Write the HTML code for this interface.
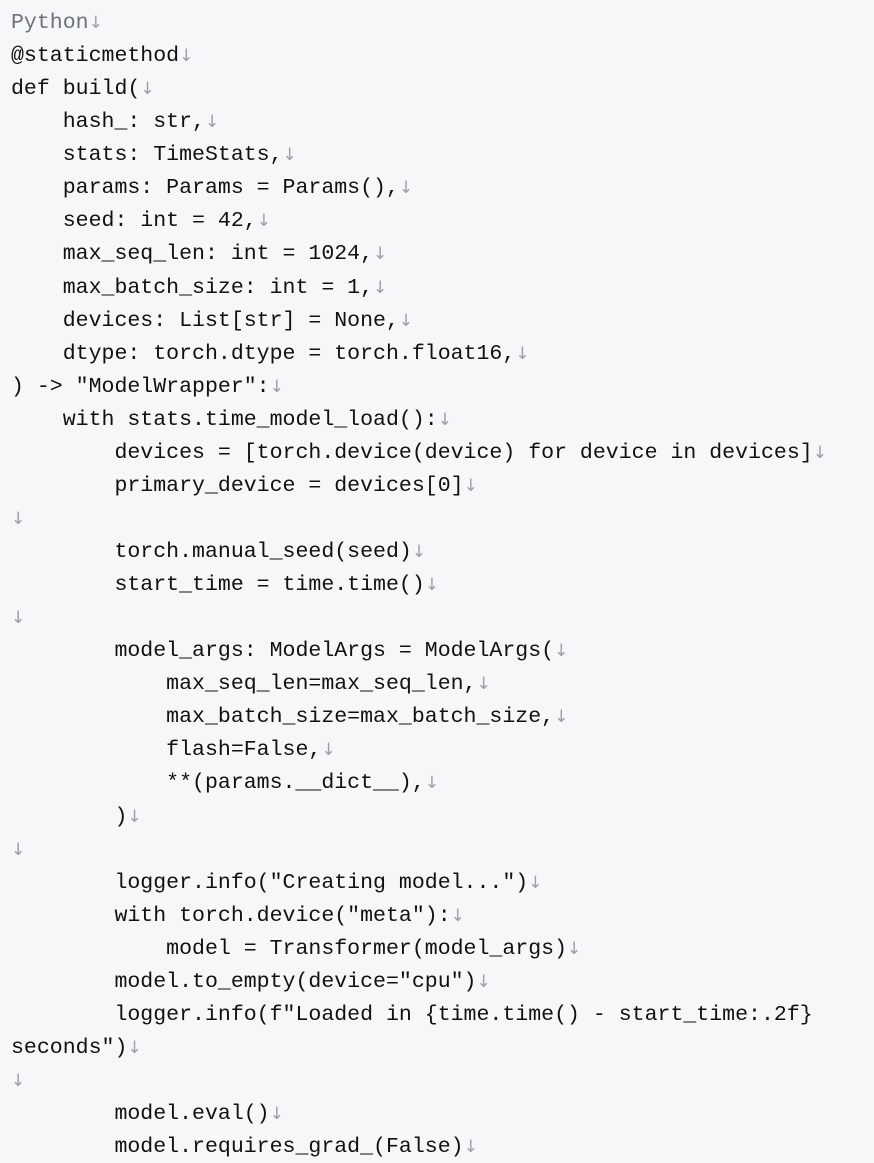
<!DOCTYPE html>
<html><head><meta charset="utf-8"><style>
html,body{margin:0;padding:0;background:#f6f7f9;width:874px;height:1163px;overflow:hidden}
pre{margin:0;padding:7px 0 0 11px;font-family:"Liberation Mono","DejaVu Sans Mono",monospace;font-size:21.55px;line-height:33.06px;color:#111;white-space:pre}
.a{color:#9a9ea5;font-family:"DejaVu Sans",sans-serif;font-size:17px}
.g{color:#6c727c}
</style></head><body><pre><span class="g">Python</span><span class="a">↓</span>
@staticmethod<span class="a">↓</span>
def build(<span class="a">↓</span>
    hash_: str,<span class="a">↓</span>
    stats: TimeStats,<span class="a">↓</span>
    params: Params = Params(),<span class="a">↓</span>
    seed: int = 42,<span class="a">↓</span>
    max_seq_len: int = 1024,<span class="a">↓</span>
    max_batch_size: int = 1,<span class="a">↓</span>
    devices: List[str] = None,<span class="a">↓</span>
    dtype: torch.dtype = torch.float16,<span class="a">↓</span>
) -> "ModelWrapper":<span class="a">↓</span>
    with stats.time_model_load():<span class="a">↓</span>
        devices = [torch.device(device) for device in devices]<span class="a">↓</span>
        primary_device = devices[0]<span class="a">↓</span>
<span class="a">↓</span>
        torch.manual_seed(seed)<span class="a">↓</span>
        start_time = time.time()<span class="a">↓</span>
<span class="a">↓</span>
        model_args: ModelArgs = ModelArgs(<span class="a">↓</span>
            max_seq_len=max_seq_len,<span class="a">↓</span>
            max_batch_size=max_batch_size,<span class="a">↓</span>
            flash=False,<span class="a">↓</span>
            **(params.__dict__),<span class="a">↓</span>
        )<span class="a">↓</span>
<span class="a">↓</span>
        logger.info("Creating model...")<span class="a">↓</span>
        with torch.device("meta"):<span class="a">↓</span>
            model = Transformer(model_args)<span class="a">↓</span>
        model.to_empty(device="cpu")<span class="a">↓</span>
        logger.info(f"Loaded in {time.time() - start_time:.2f}
seconds")<span class="a">↓</span>
<span class="a">↓</span>
        model.eval()<span class="a">↓</span>
        model.requires_grad_(False)<span class="a">↓</span>
</pre></body></html>
